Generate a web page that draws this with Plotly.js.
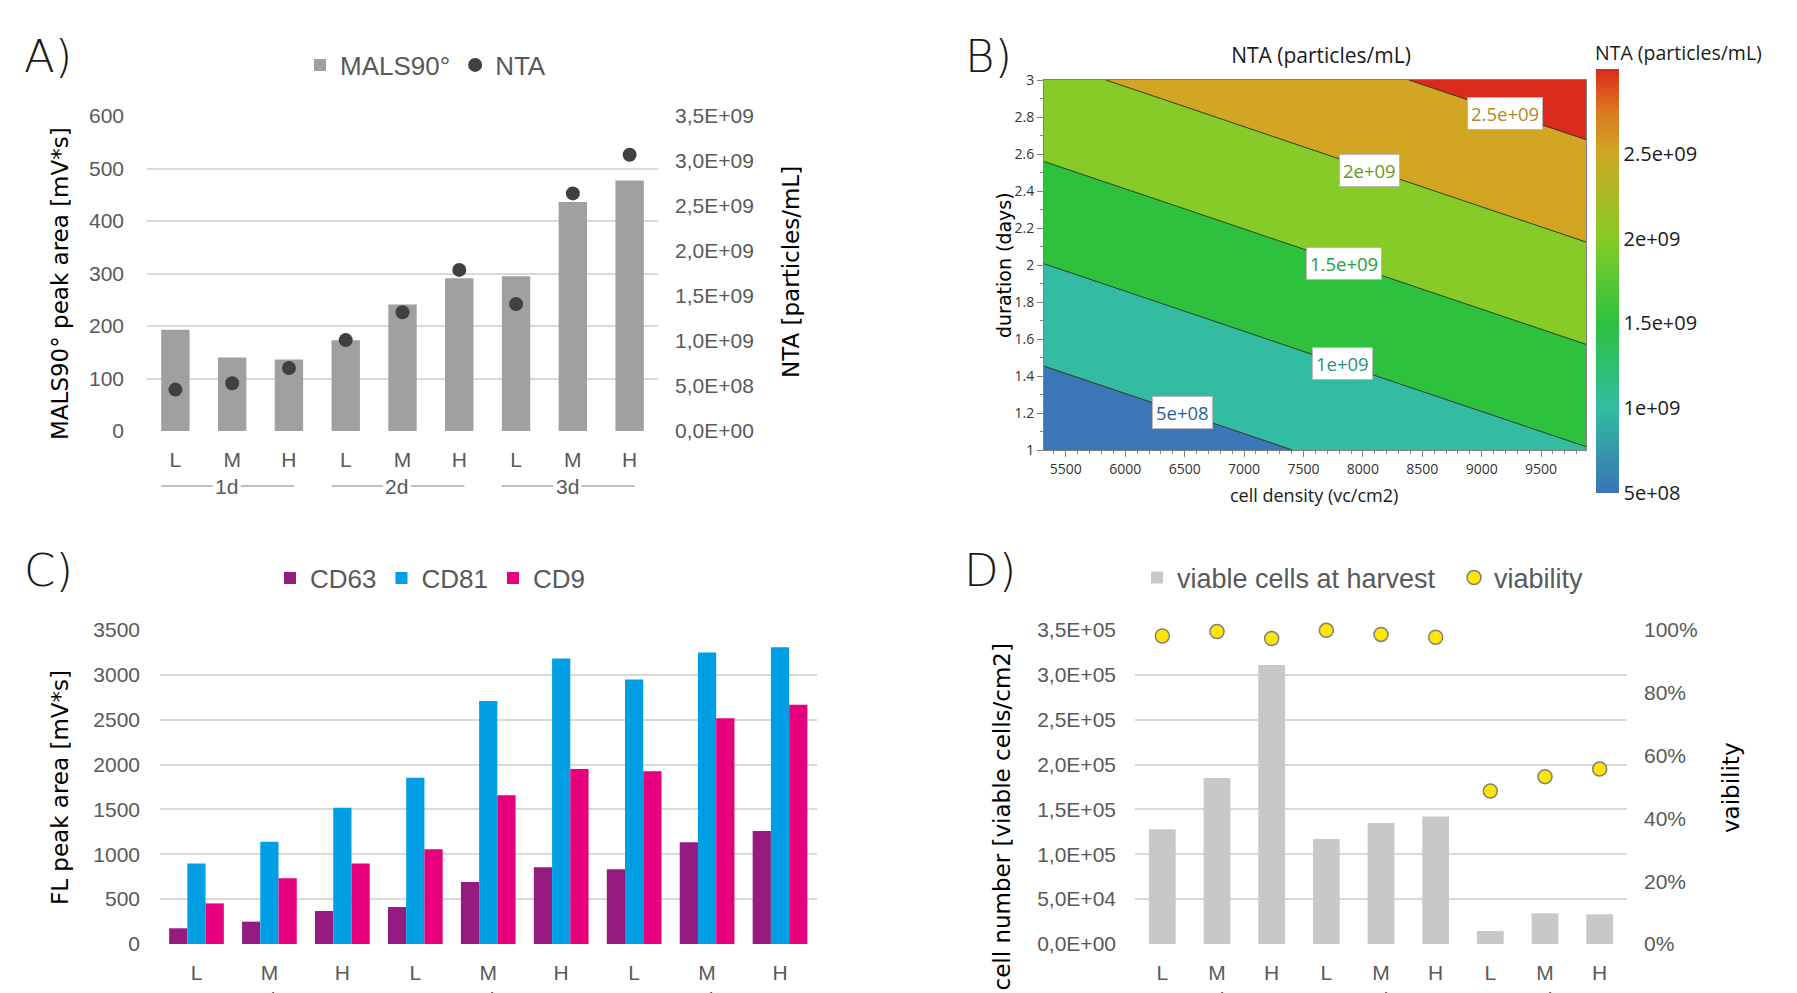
<!DOCTYPE html>
<html>
<head>
<meta charset="utf-8">
<script src="https://cdn.plot.ly/plotly-3.0.1.min.js"></script>
<style>
html, body { margin: 0; padding: 0; background: #ffffff; }
#chart { width: 1797px; height: 993px; }
</style>
</head>
<body>
<div id="chart"></div>
<script>
// ---------------- data ----------------
const levels = ['L', 'M', 'H', 'L', 'M', 'H', 'L', 'M', 'H'];
const dayGroups = ['1d', '2d', '3d'];

// Panel A
const malsPeakArea = [193, 140, 136, 173, 241, 291, 295, 436, 477];
const ntaParticles = [4.6e8, 5.3e8, 7.0e8, 1.01e9, 1.32e9, 1.79e9, 1.41e9, 2.64e9, 3.07e9];
const ntaTickVals = [0, 5e8, 1e9, 1.5e9, 2e9, 2.5e9, 3e9, 3.5e9];
const ntaTickText = ['0,0E+00', '5,0E+08', '1,0E+09', '1,5E+09', '2,0E+09', '2,5E+09', '3,0E+09', '3,5E+09'];

const cellDensity = [5300, 6450, 7600, 8750, 9900];
const durationDays = [1, 1.5, 2, 2.5, 3];
const ntaSurface = [
  [8.7e7, 3.12e8, 5.38e8, 7.63e8, 9.88e8],
  [5.39e8, 7.64e8, 9.90e8, 1.215e9, 1.440e9],
  [9.91e8, 1.216e9, 1.442e9, 1.667e9, 1.892e9],
  [1.443e9, 1.668e9, 1.894e9, 2.119e9, 2.344e9],
  [1.895e9, 2.120e9, 2.346e9, 2.571e9, 2.796e9]
];
const contourLabelText = ['2.5e+09', '2e+09', '1.5e+09', '1e+09', '5e+08'];
const contourLabelX = [9198, 8056, 7838, 7828, 6478];
const contourLabelY = [2.82, 2.51, 2.01, 1.465, 1.2];
const colorbarTickVals = [5e8, 1e9, 1.5e9, 2e9, 2.5e9];
const colorbarTickText = ['5e+08', '1e+09', '1.5e+09', '2e+09', '2.5e+09'];

// Panel C
const cd63 = [175, 249, 368, 412, 691, 855, 832, 1133, 1260];
const cd81 = [896, 1141, 1520, 1854, 2709, 3181, 2947, 3248, 3307];
const cd9 = [453, 732, 896, 1055, 1657, 1951, 1925, 2516, 2668];

// Panel D
const viableCells = [1.28e5, 1.85e5, 3.11e5, 1.17e5, 1.35e5, 1.42e5, 1.45e4, 3.42e4, 3.31e4];
const viability = [0.981, 0.995, 0.973, 0.999, 0.986, 0.977, 0.487, 0.533, 0.557];
const cellTickVals = [0, 5e4, 1e5, 1.5e5, 2e5, 2.5e5, 3e5, 3.5e5];
const cellTickText = ['0,0E+00', '5,0E+04', '1,0E+05', '1,5E+05', '2,0E+05', '2,5E+05', '3,0E+05', '3,5E+05'];
const pctTickVals = [0, 0.2, 0.4, 0.6, 0.8, 1];

// ---------------- helpers ----------------
const W = 1797, H = 993;
const px = v => v / W;
const py = v => 1 - v / H;
const idx = levels.map((_, i) => i);
const groupCenters = dayGroups.map((_, g) => g * 3 + 1);

const excelFont = {family: 'Liberation Sans, Arial, sans-serif', size: 21, color: '#595959'};
const titleFont = {family: 'DejaVu Sans, sans-serif', size: 23, color: '#000000'};
const segoeFont = {family: 'Open Sans, Noto Sans, sans-serif', size: 14, color: '#333333'};
const gridGray = '#d9d9d9';

// ---------------- traces ----------------
const traces = [];

// A
traces.push({
  type: 'bar', name: 'MALS90°', x: idx, y: malsPeakArea, xaxis: 'x', yaxis: 'y',
  width: 0.5, marker: {color: '#a0a0a0'}, legend: 'legend'
});
traces.push({
  type: 'scatter', mode: 'markers', name: 'NTA', x: idx, y: ntaParticles, xaxis: 'x', yaxis: 'y2',
  marker: {color: '#404040', size: 14}, legend: 'legend', cliponaxis: false
});

// B
const cbScale = [
  [0, '#3a73b8'], [0.2, '#33bca0'], [0.4, '#2dc13f'], [0.6, '#86cb27'],
  [0.8, '#cfa823'], [0.9, '#da7a1e'], [1, '#dc2a1c']
];
const bandScale = [
  [0, '#3b77b6'], [0.2, '#33bca2'], [0.4, '#2dc13e'], [0.6, '#86cb28'],
  [0.8, '#d2a523'], [1, '#dc2a1c']
];
traces.push({
  type: 'heatmap', x: cellDensity, y: durationDays, z: ntaSurface, xaxis: 'x2', yaxis: 'y3',
  colorscale: cbScale, zmin: 5e8, zmax: 3.0e9, showscale: true, hoverinfo: 'skip', showlegend: false,
  colorbar: {
    x: px(1596), xanchor: 'left', xpad: 0, xref: 'paper',
    y: py(69), yanchor: 'top', ypad: 0, yref: 'paper',
    len: 424, lenmode: 'pixels', thickness: 23, thicknessmode: 'pixels',
    outlinewidth: 0, ticks: '', tickmode: 'array', tickvals: colorbarTickVals, ticktext: colorbarTickText,
    tickfont: {family: 'Open Sans, Noto Sans, sans-serif', size: 20, color: '#1a1a1a'}
  }
});
traces.push({
  type: 'contour', x: cellDensity, y: durationDays, z: ntaSurface, xaxis: 'x2', yaxis: 'y3',
  autocontour: false, contours: {start: 5e8, end: 2.5e9, size: 5e8, coloring: 'fill', showlines: true},
  colorscale: bandScale, showscale: false, showlegend: false, hoverinfo: 'skip',
  line: {color: 'rgba(35,50,35,0.9)', width: 1}
});

// C
traces.push({type: 'bar', name: 'CD63', x: idx, y: cd63, xaxis: 'x3', yaxis: 'y4', marker: {color: '#951b81'}, legend: 'legend2'});
traces.push({type: 'bar', name: 'CD81', x: idx, y: cd81, xaxis: 'x3', yaxis: 'y4', marker: {color: '#009fe3'}, legend: 'legend2'});
traces.push({type: 'bar', name: 'CD9', x: idx, y: cd9, xaxis: 'x3', yaxis: 'y4', marker: {color: '#e6007e'}, legend: 'legend2'});

// D
traces.push({
  type: 'bar', name: 'viable cells at harvest', x: idx, y: viableCells, xaxis: 'x4', yaxis: 'y5',
  width: 0.49, marker: {color: '#c8c8c8'}, legend: 'legend3'
});
traces.push({
  type: 'scatter', mode: 'markers', name: 'viability', x: idx, y: viability, xaxis: 'x4', yaxis: 'y6',
  marker: {color: '#ffe600', size: 14, line: {color: '#7f7f7f', width: 1.5}}, legend: 'legend3',
  cliponaxis: false
});

// ---------------- annotations ----------------
const annotations = [];
const letter = (t, x, y) => annotations.push({
  text: t, xref: 'paper', yref: 'paper', x: px(x), y: py(y), xanchor: 'left', yanchor: 'middle',
  showarrow: false, font: {family: 'DejaVu Sans, sans-serif', size: 45, weight: 200, color: '#1a1a1a'}
});
letter('A)', 22, 56);
letter('B)', 963, 57);
letter('C)', 22, 570);
letter('D)', 962, 570);

const vtitle = (t, x, y, anchor, font) => annotations.push({
  text: t, xref: 'paper', yref: 'paper', x: px(x), y: py(y), xanchor: 'center', yanchor: anchor || 'middle',
  textangle: -90, showarrow: false, font: font || titleFont
});
vtitle('MALS90° peak area [mV*s]', 60, 284);
vtitle('NTA [particles/mL]', 791, 272);
vtitle('duration (days)', 1004, 265, 'middle', {family: 'DejaVu Sans, sans-serif', size: 19, color: '#000000'});
vtitle('FL peak area [mV*s]', 60, 788);
vtitle('cell number [viable cells/cm2]', 1001, 642, 'top');
vtitle('vaibility', 1731, 788);

annotations.push({
  text: 'cell density (vc/cm2)', xref: 'paper', yref: 'paper', x: px(1314), y: py(495),
  xanchor: 'center', yanchor: 'middle', showarrow: false,
  font: {family: 'Open Sans, Noto Sans, sans-serif', size: 18, color: '#1a1a1a'}
});
annotations.push({
  text: 'NTA (particles/mL)', xref: 'paper', yref: 'paper', x: px(1593), y: py(52),
  xanchor: 'left', yanchor: 'middle', showarrow: false,
  font: {family: 'Open Sans, Noto Sans, sans-serif', size: 19.5, color: '#1a1a1a'}
});

// contour labels
const labelColors = ['#b08a22', '#659a1c', '#23a03a', '#1f9480', '#2b5f9a'];
contourLabelText.forEach((t, i) => annotations.push({
  text: t, xref: 'x2', yref: 'y3', x: contourLabelX[i], y: contourLabelY[i],
  xanchor: 'center', yanchor: 'middle', showarrow: false,
  bgcolor: '#ffffff', bordercolor: '#b8b8b8', borderwidth: 1, borderpad: 3,
  font: {family: 'Open Sans, Noto Sans, sans-serif', size: 18.5, color: labelColors[i]}
}));

// day group labels
const shapes = [];
dayGroups.forEach((d, g) => {
  const c = groupCenters[g];
  annotations.push({
    text: d, xref: 'x', yref: 'paper', x: c - 0.1, y: py(487), xanchor: 'center', yanchor: 'middle',
    showarrow: false, font: excelFont
  });
  shapes.push({type: 'line', xref: 'x', yref: 'paper', x0: c - 1.25, x1: c - 0.34, y0: py(486), y1: py(486), line: {color: '#808080', width: 1}});
  shapes.push({type: 'line', xref: 'x', yref: 'paper', x0: c + 0.15, x1: c + 1.09, y0: py(486), y1: py(486), line: {color: '#808080', width: 1}});
  ['x3', 'x4'].forEach(ax => annotations.push({
    text: d, xref: ax, yref: 'paper', x: c - 0.08, y: py(986), xanchor: 'center', yanchor: 'top',
    showarrow: false, font: excelFont
  }));
});

// ---------------- layout ----------------
const catAxis = (domain, anchor) => ({
  domain: domain, anchor: anchor, range: [-0.5, 8.5], tickmode: 'array', tickvals: idx, ticktext: levels,
  showgrid: false, zeroline: false, showline: false, ticks: '', tickfont: excelFont, ticklabelstandoff: 14,
  fixedrange: true
});
const valAxis = (domain, anchor, range, extra) => Object.assign({
  domain: domain, anchor: anchor, range: range, showgrid: true, gridcolor: gridGray, gridwidth: 2,
  zeroline: false, showline: false, ticks: '', tickfont: excelFont, ticklabelstandoff: 16, fixedrange: true
}, extra);
const frameAxis = (domain, anchor, range, extra) => Object.assign({
  domain: domain, anchor: anchor, range: range, showgrid: false, zeroline: false,
  showline: true, linecolor: '#7f7f7f', linewidth: 1, mirror: true,
  ticks: 'outside', ticklen: 6, tickcolor: '#7f7f7f', tickfont: segoeFont, fixedrange: true
}, extra);

const legendFont = {family: 'Liberation Sans, Arial, sans-serif', size: 26, color: '#595959'};

const layout = {
  width: W, height: H,
  margin: {l: 0, r: 0, t: 0, b: 0, pad: 0, autoexpand: false},
  paper_bgcolor: '#ffffff', plot_bgcolor: 'rgba(0,0,0,0)',
  barmode: 'group', bargap: 0.25, bargroupgap: 0,
  hovermode: false,
  showlegend: true,
  title: {
    text: 'NTA (particles/mL)', xref: 'paper', yref: 'paper', x: px(1321), xanchor: 'center',
    y: py(56), yanchor: 'middle', font: {family: 'Open Sans, Noto Sans, sans-serif', size: 21, color: '#1a1a1a'}
  },
  xaxis: catAxis([px(147), px(658)], 'y'),
  yaxis: valAxis([py(431), py(116)], 'x', [0, 600], {dtick: 100, tick0: 0, ticklabelstandoff: 22}),
  yaxis2: valAxis([py(431), py(116)], 'x', [0, 3.5e9], {
    overlaying: 'y', side: 'right', showgrid: false, tickmode: 'array', tickvals: ntaTickVals, ticktext: ntaTickText
  }),
  xaxis2: frameAxis([px(1044), px(1586)], 'y3', [5316, 9878], {
    tickmode: 'array', tickvals: [5500, 6000, 6500, 7000, 7500, 8000, 8500, 9000, 9500],
    minor: {dtick: 100, tick0: 5300, ticks: 'outside', ticklen: 3, tickcolor: '#7f7f7f'}
  }),
  yaxis3: frameAxis([py(450), py(80)], 'x2', [1, 3], {
    dtick: 0.2, tick0: 1,
    minor: {dtick: 0.1, tick0: 1, ticks: 'outside', ticklen: 3, tickcolor: '#7f7f7f'}
  }),
  xaxis3: catAxis([px(160), px(816.5)], 'y4'),
  yaxis4: valAxis([py(944), py(630)], 'x3', [0, 3500], {dtick: 500, tick0: 0, ticklabelstandoff: 19}),
  xaxis4: catAxis([px(1135), px(1627)], 'y5'),
  yaxis5: valAxis([py(944), py(630)], 'x4', [0, 3.5e5], {tickmode: 'array', tickvals: cellTickVals, ticktext: cellTickText, ticklabelstandoff: 18}),
  yaxis6: valAxis([py(944), py(630)], 'x4', [0, 1], {
    overlaying: 'y5', side: 'right', showgrid: false, tickmode: 'array', tickvals: pctTickVals, tickformat: '.0%'
  }),
  legend: {
    orientation: 'h', x: px(300), xanchor: 'left', y: py(65), yanchor: 'middle',
    font: legendFont, bgcolor: 'rgba(0,0,0,0)', itemclick: false, itemdoubleclick: false
  },
  legend2: {
    orientation: 'h', x: px(270), xanchor: 'left', y: py(578), yanchor: 'middle',
    font: legendFont, bgcolor: 'rgba(0,0,0,0)', itemclick: false, itemdoubleclick: false
  },
  legend3: {
    orientation: 'h', x: px(1137), xanchor: 'left', y: py(578), yanchor: 'middle',
    font: {family: 'Liberation Sans, Arial, sans-serif', size: 27, color: '#595959'},
    entrywidth: 272, entrywidthmode: 'pixels',
    bgcolor: 'rgba(0,0,0,0)', itemclick: false, itemdoubleclick: false
  },
  annotations: annotations,
  shapes: shapes
};

Plotly.newPlot('chart', traces, layout, {displayModeBar: false, staticPlot: true});
</script>
</body>
</html>
